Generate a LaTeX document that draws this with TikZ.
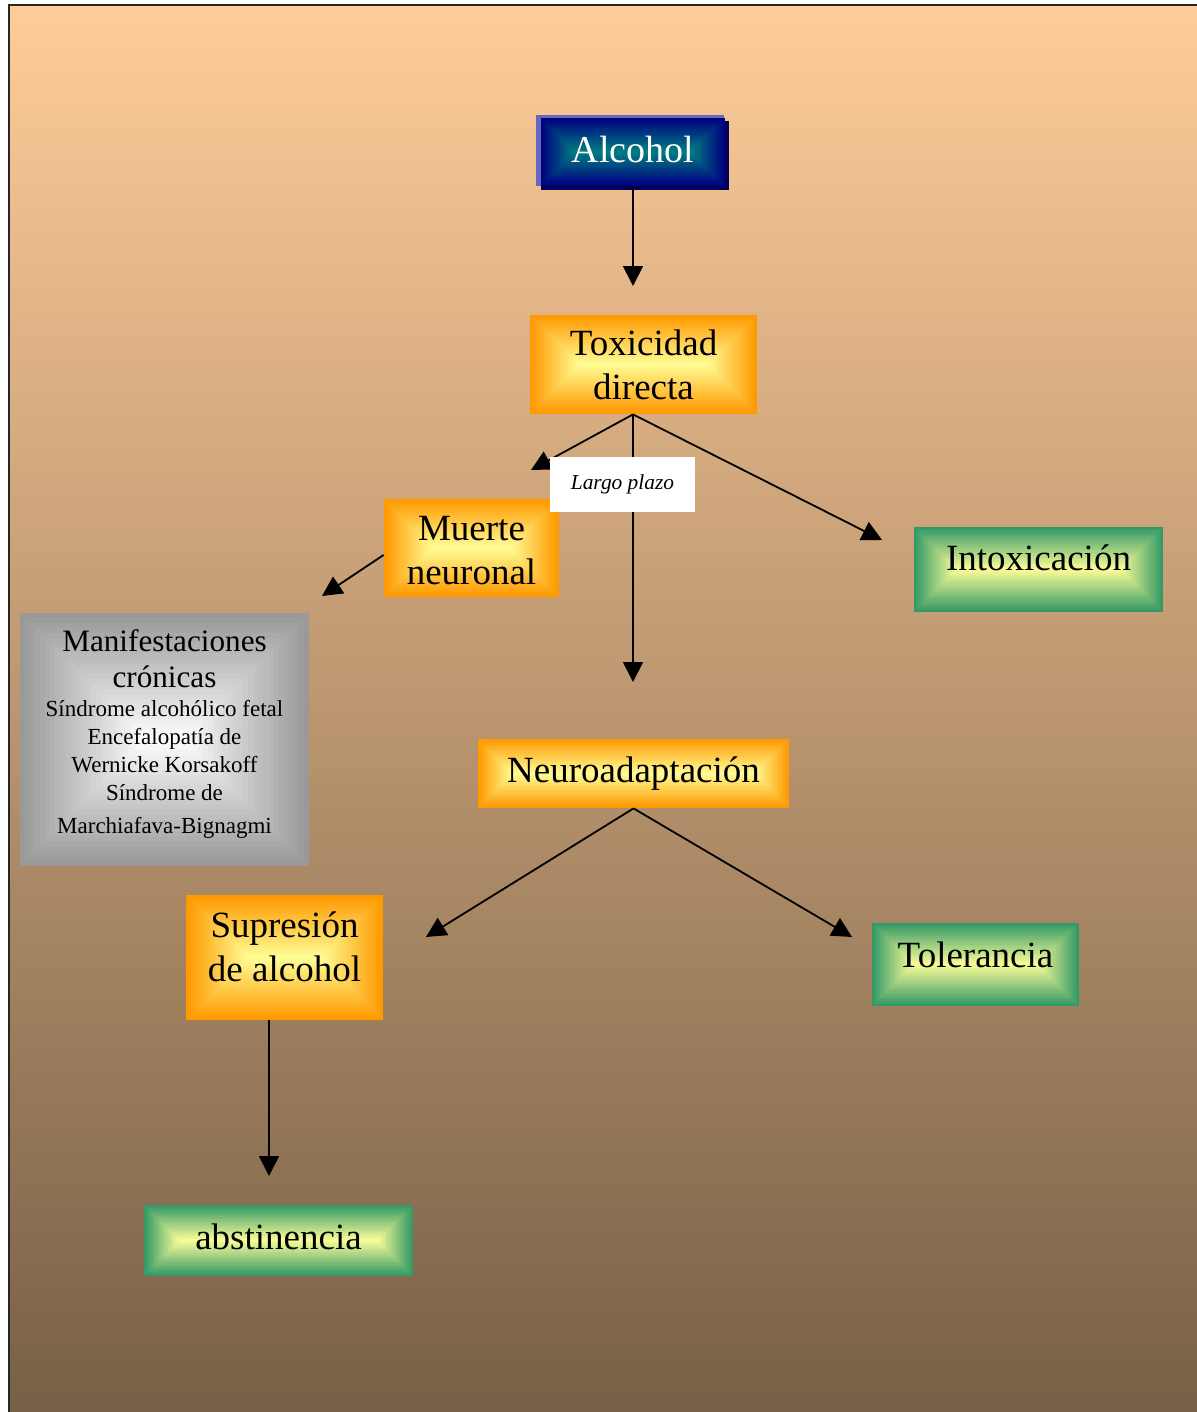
\documentclass[tikz,border=0pt]{standalone}
\usepackage{fontspec}
\setmainfont{Liberation Serif}
\usepackage{tikz}
\usetikzlibrary{arrows.meta, calc}

\definecolor{peach}{HTML}{FFCC99}
\definecolor{bark}{HTML}{765F46}
\definecolor{naranja}{HTML}{FF9900}
\definecolor{crema}{HTML}{FFFF99}
\definecolor{verde}{HTML}{339966}
\definecolor{gris}{HTML}{999999}
\definecolor{marino}{HTML}{000080}
\definecolor{azulverde}{HTML}{008080}
\definecolor{lavanda}{HTML}{6666BB}

\newcommand\bigtext{\fontsize{15.6}{18.5}\selectfont}
\newcommand\liftby[1]{\rule[-#1]{0pt}{0pt}}

\tikzset{
    rectshade/.style 2 args={path picture={
        \foreach \k in {0,...,24}{
            \pgfmathtruncatemacro\mixpc{4*\k}
            \fill[#2!\mixpc!#1] let \p1=(path picture bounding box.south west),
                \p2=(path picture bounding box.north east),
                \n1={(\y2-\y1)/2*\k/25} in
                (\x1+\n1,\y1+\n1) rectangle (\x2-\n1,\y2-\n1);
        }}},
    labelbox/.style={inner sep=0pt, align=center, font=\fontsize{18.5}{22}\selectfont},
    orangebox/.style={labelbox, rectshade={naranja}{crema}},
    greenbox/.style={labelbox, rectshade={verde}{crema}},
    graybox/.style={labelbox, rectshade={gris}{white}, font=\fontsize{11.5}{14}\selectfont},
    navybox/.style={labelbox, rectshade={marino}{azulverde}, text=white, font=\fontsize{19}{22}\selectfont},
    arr/.style={-{Triangle[length=10pt, width=10pt]}, line width=0.9pt}
}

\begin{document}
\begin{tikzpicture}[x=0.5pt, y=-0.5pt]
    \useasboundingbox (0,0) rectangle (1196,1412);
    \shade[top color=peach, bottom color=bark] (9,5) rectangle (1210,1420);
    \draw[line width=1pt, black!85] (9,1420) -- (9,5) -- (1210,5);

    \fill[marino!70!black] (541,121) rectangle (729,190);
    \fill[lavanda] (536,115) rectangle (724,186);
    \node [navybox, minimum width=92pt, minimum height=34pt] (alcohol) at (633,152) {Alcohol\liftby{3pt}};

    \node [orangebox, minimum width=113.5pt, minimum height=49.5pt] (toxic) at (643.5,364.5) {Toxicidad\\directa};
    \node [orangebox, minimum width=87.5pt, minimum height=49pt] (muerte) at (471.5,548) {\rule{0pt}{15pt}Muerte\\neuronal};
    \node [greenbox, minimum width=124.5pt, minimum height=42.5pt] (intox) at (1038.5,569.5) {Intoxicación\liftby{12pt}};
    \node [graybox, minimum width=144.5pt, minimum height=126.5pt] (manif) at (164.5,739.5)
        {\bigtext Manifestaciones\\[4pt]\bigtext crónicas\\[0.5pt]Síndrome alcohólico fetal\\Encefalopatía de\\Wernicke Korsakoff\\Síndrome de\\[2.5pt]Marchiafava-Bignagmi\liftby{8pt}};
    \node [orangebox, minimum width=155.5pt, minimum height=34.5pt] (neuro) at (633.5,773.5) {Neuroadaptación};
    \node [orangebox, minimum width=98.5pt, minimum height=62.5pt] (supr) at (284.5,957.5) {Supresión\\de alcohol\liftby{11pt}};
    \node [greenbox, minimum width=103.5pt, minimum height=41.5pt] (toler) at (975.5,964.5) {Tolerancia\liftby{10pt}};
    \node [greenbox, minimum width=134.5pt, minimum height=35.5pt] (abst) at (278.5,1240.5) {abstinencia\liftby{4pt}};

    \coordinate (tox tip) at (633,286);
    \coordinate (muerte tip) at (531,470);
    \coordinate (intox tip) at (882,540);
    \coordinate (neuro tip) at (633,682);
    \coordinate (manif tip) at (322,596);
    \coordinate (supr tip) at (426,937);
    \coordinate (toler tip) at (852,937);
    \coordinate (abst tip) at (269,1176);

    \draw[arr] (alcohol.south) -- (tox tip);
    \draw[arr] (toxic.south -| alcohol.south) -- (muerte tip);
    \draw[arr] (toxic.south -| alcohol.south) -- (intox tip);
    \draw[arr] (toxic.south -| alcohol.south) -- (neuro tip);
    \draw[arr] ([yshift=-3.5pt]muerte.west) -- (manif tip);
    \draw[arr] (neuro.south) -- (supr tip);
    \draw[arr] (neuro.south) -- (toler tip);
    \draw[arr] (supr.south -| abst tip) -- (abst tip);

    \node [fill=white, minimum width=72.5pt, minimum height=27.5pt, inner sep=0pt,
        font=\itshape\fontsize{10.7}{13}\selectfont] (plazo) at (622.5,484.5) {Largo plazo};
\end{tikzpicture}
\end{document}
